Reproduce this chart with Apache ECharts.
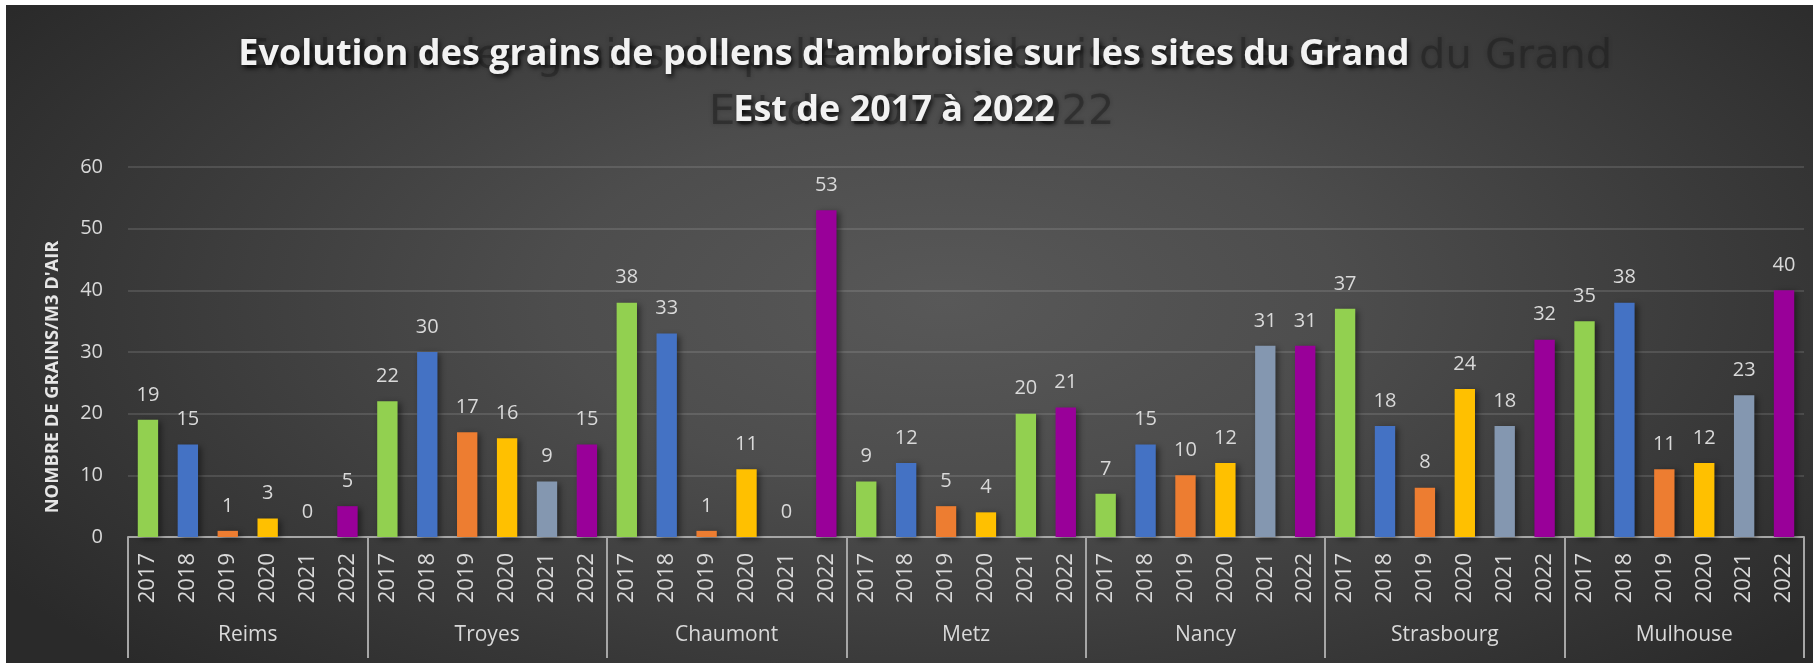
<!DOCTYPE html>
<html>
<head>
<meta charset="utf-8">
<script src="https://cdn.jsdelivr.net/npm/echarts@6/dist/echarts.min.js"></script>
<style>
  html, body { margin: 0; padding: 0; background: #ffffff; width: 1813px; height: 663px; overflow: hidden; }
  #chart {
    position: absolute; left: 6px; top: 5px; width: 1807px; height: 658px;
    background: radial-gradient(ellipse 62% 80% at 52% 45%, #585858 0%, #4d4d4d 35%, #3a3a3a 70%, #2a2a2a 100%);
  }
</style>
</head>
<body>
<div id="chart"></div>
<script>
// ---- data ----
const titleLines = ["Evolution des grains de pollens d'ambroisie sur les sites du Grand", "Est de 2017 à 2022"];
const yAxisTitle = "NOMBRE DE GRAINS/M3 D'AIR";
const years = ['2017', '2018', '2019', '2020', '2021', '2022'];
const cities = ['Reims', 'Troyes', 'Chaumont', 'Metz', 'Nancy', 'Strasbourg', 'Mulhouse'];
const reims      = [19, 15, 1, 3, 0, 5];
const troyes     = [22, 30, 17, 16, 9, 15];
const chaumont   = [38, 33, 1, 11, 0, 53];
const metz       = [9, 12, 5, 4, 20, 21];
const nancy      = [7, 15, 10, 12, 31, 31];
const strasbourg = [37, 18, 8, 24, 18, 32];
const mulhouse   = [35, 38, 11, 12, 23, 40];
const yMin = 0, yMax = 60, yStep = 10;

// ---- styles ----
const yearColors = ['#92d050', '#4472c4', '#ed7d31', '#ffc000', '#8497b0', '#990099'];
const colorOverrides = { 'Metz|2021': '#92d050' };
const textColor = '#d9d9d9';
const axisColor = '#a6a6a6';
const FONT = '"Open Sans", "Noto Sans", sans-serif';

const cityValues = [reims, troyes, chaumont, metz, nancy, strasbourg, mulhouse];
const xCats = [];
const barData = [];
cities.forEach((c, ci) => {
  years.forEach((y, yi) => {
    xCats.push(y);
    barData.push({
      value: cityValues[ci][yi],
      itemStyle: { color: colorOverrides[c + '|' + y] || yearColors[yi] }
    });
  });
});

const ghostStyle = {
  font: 'normal 41.5px "DejaVu Sans"', fill: 'rgba(30,30,30,0.5)',
  align: 'left', verticalAlign: 'middle',
  textShadowColor: 'rgba(30,30,30,0.6)', textShadowBlur: 4
};
const realStyle = {
  font: 'bold 36px "Open Sans"', fill: '#f2f2f2',
  align: 'center', verticalAlign: 'middle',
  textShadowColor: 'rgba(0,0,0,0.75)', textShadowBlur: 5, textShadowOffsetX: 2, textShadowOffsetY: 3
};

const chart = echarts.init(document.getElementById('chart'), null, { renderer: 'canvas' });
chart.setOption({
  backgroundColor: 'transparent',
  animation: false,
  textStyle: { fontFamily: FONT },
  graphic: [
    { type: 'text', z: 1, x: 237, y: 52, style: Object.assign({ text: titleLines[0] }, ghostStyle) },
    { type: 'text', z: 1, x: 703, y: 108, style: Object.assign({ text: titleLines[1] }, ghostStyle) },
    { type: 'text', z: 10, x: 818, y: 50, style: Object.assign({ text: titleLines[0] }, realStyle) },
    { type: 'text', z: 10, x: 888, y: 106, style: Object.assign({ text: titleLines[1] }, realStyle) },
    { type: 'text', z: 10, x: 47, y: 372, rotation: Math.PI / 2,
      style: { text: yAxisTitle, font: 'bold 18.3px "Open Sans"', fill: '#e6e6e6',
               align: 'center', verticalAlign: 'middle' } }
  ],
  grid: { left: 122, right: 9, top: 162, bottom: 126, containLabel: false },
  xAxis: [
    {
      type: 'category', data: xCats, position: 'bottom', boundaryGap: true,
      axisLine: { show: true, lineStyle: { color: axisColor, width: 2 } },
      axisTick: { show: false },
      axisLabel: { interval: 0, rotate: 90, margin: 16, color: textColor, fontSize: 22, fontFamily: FONT }
    },
    {
      type: 'category', data: cities, position: 'bottom', boundaryGap: true,
      axisLine: { show: false },
      axisTick: { show: true, interval: 0, length: 121, lineStyle: { color: axisColor, width: 2 } },
      axisLabel: { interval: 0, margin: 88, color: textColor, fontSize: 21, fontFamily: FONT }
    }
  ],
  yAxis: {
    type: 'value', min: yMin, max: yMax, interval: yStep,
    axisLine: { show: false }, axisTick: { show: false },
    axisLabel: { color: textColor, fontSize: 20, margin: 25, fontFamily: FONT },
    splitLine: { show: true, lineStyle: { color: 'rgba(217,217,217,0.2)', width: 1.5 } }
  },
  series: [{
    type: 'bar', xAxisIndex: 0, yAxisIndex: 0, data: barData, barWidth: '51%',
    itemStyle: { shadowColor: 'rgba(0,0,0,0.45)', shadowBlur: 6, shadowOffsetX: 3, shadowOffsetY: 2 },
    label: { show: true, position: 'top', distance: 15, color: textColor, fontSize: 20, fontFamily: FONT }
  }]
});
</script>
</body>
</html>
